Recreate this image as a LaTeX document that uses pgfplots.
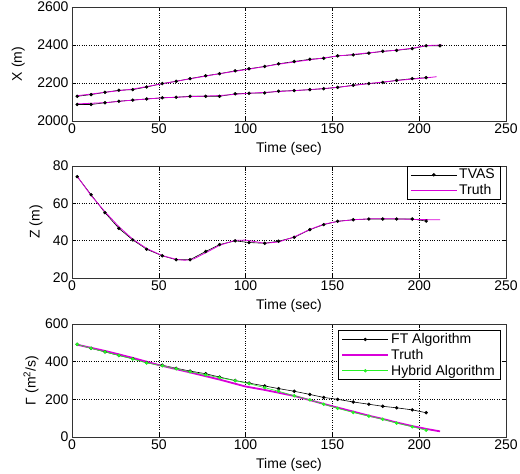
\documentclass[border=0pt]{standalone}
\usepackage{fontspec}
\setmainfont{Liberation Sans}
\usepackage{pgfplots}
\pgfplotsset{compat=1.18}

\definecolor{truthc}{rgb}{0.85,0,0.85}
\definecolor{hybc}{rgb}{0.15,0.95,0.15}

\pgfplotsset{
  panel/.style={
    scale only axis,
    width=434pt,
    xmin=0, xmax=250,
    xtick={0,50,100,150,200,250},
    tick align=inside,
    major tick length=4pt,
    tick style={black, thin},
    axis line style={black!80, line width=0.8pt},
    grid=major,
    grid style={black, dotted, line width=0.5pt},
    font=\fontsize{14}{16}\selectfont,
    ticklabel style={font=\fontsize{14}{16}\selectfont},
    /pgf/number format/assume math mode=true,
    /pgf/number format/1000 sep={},
    xlabel={Time (sec)},
    x label style={at={(axis description cs:0.5,0)}, anchor=center, yshift=-28pt},
    xticklabel style={yshift=1pt},
    legend cell align=left,
    legend style={draw=black, fill=white, font=\fontsize{14}{16}\selectfont,
      inner xsep=3pt, inner ysep=1pt, row sep=0pt},
    legend image code/.code={%
      \draw[mark repeat=2, mark phase=2, #1] plot coordinates {(0pt,0pt) (23pt,0pt) (46pt,0pt)};},
  },
  fts/.style={black, line width=0.6pt, mark=*, mark size=1.4pt},
  tru/.style={truthc, line width=0.8pt},
  trb/.style={truthc, line width=1.8pt},
  hyb/.style={hybc, line width=0.6pt, mark=*, mark size=1.4pt},
}

\begin{document}
\begin{tikzpicture}
\useasboundingbox (0pt,0pt) rectangle (520pt,474pt);

% ---------- X ----------
\begin{axis}[panel,
  at={(72pt,353pt)}, anchor=south west,
  height=114pt,
  ymin=2000, ymax=2600, ytick={2000,2200,2400,2600},
  ylabel={X (m)},
  y label style={at={(axis description cs:-0.124,0.5)}, anchor=center},
]
\addplot[fts] coordinates {
(3,2130)(11,2139)(19,2151)(27,2162)(35,2165)(43,2179)(52,2197)(60,2209)(68,2223)
(77,2238)(85,2249)(94,2264)(102,2275)(111,2287)(119,2301)(128,2313)(137,2325)
(145,2330)(153,2343)(162,2348)(171,2357)(179,2367)(187,2372)(196,2381)(204,2396)(212,2396)
};
\addplot[fts] coordinates {
(3,2087)(11,2087)(19,2096)(27,2104)(35,2110)(43,2116)(52,2122)(60,2125)(68,2130)
(77,2130)(85,2130)(94,2143)(102,2146)(111,2148)(119,2157)(128,2160)(137,2165)
(145,2170)(153,2177)(162,2188)(171,2197)(179,2203)(187,2214)(196,2223)(204,2228)
};
\addplot[tru] coordinates {
(3,2133)(20,2152)(35,2168)(52,2196)(68,2222)(85,2249)(102,2273)(119,2299)
(137,2322)(153,2342)(170,2358)(187,2373)(196,2383)(204,2397)(213,2400)
};
\addplot[tru] coordinates {
(3,2090)(20,2097)(35,2110)(52,2122)(68,2128)(85,2134)(102,2146)(119,2155)
(137,2165)(153,2177)(170,2196)(187,2213)(204,2227)(210,2233)
};
\end{axis}

% ---------- Z ----------
\begin{axis}[panel,
  at={(72pt,196pt)}, anchor=south west,
  height=112pt,
  ymin=20, ymax=80, ytick={20,40,60,80},
  ylabel={Z (m)},
  y label style={at={(axis description cs:-0.083,0.5)}, anchor=center},
  legend style={at={(0.986,1)}, anchor=north east},
]
\addlegendimage{fts}
\addlegendentry{TVAS}
\addlegendimage{tru}
\addlegendentry{Truth}
\addplot[fts, forget plot] coordinates {
(3,74.3)(11,64.6)(19,55.0)(27,46.6)(35,40.4)(43,35.4)(52,31.9)(60,29.8)(68,29.8)
(77,34.2)(85,37.9)(94,39.9)(102,39.0)(111,38.6)(119,39.7)(128,41.8)(137,45.9)
(145,48.6)(153,50.4)(162,51.2)(171,51.6)(179,51.6)(187,51.6)(196,51.6)(204,50.5)
};
\addplot[tru, forget plot] coordinates {
(3,74.5)(11,64.2)(19,55.5)(27,47.5)(35,40.8)(43,35.8)(52,32.0)(60,30.0)(65,29.5)
(70,30.2)(77,33.5)(85,37.5)(94,40.2)(100,40.3)(106,39.4)(111,38.6)(119,39.3)
(128,42.0)(137,46.0)(145,48.8)(153,50.3)(162,51.2)(171,51.7)(180,51.8)(190,51.6)
(200,51.3)(212,51.2)
};
\end{axis}

% ---------- Gamma ----------
\begin{axis}[panel,
  at={(72pt,37pt)}, anchor=south west,
  height=113pt,
  ymin=0, ymax=600, ytick={0,200,400,600},
  ylabel={Γ (m\textsuperscript{2}/s)},
  y label style={at={(axis description cs:-0.0945,0.5)}, anchor=center},
  legend style={at={(0.986,0.943)}, anchor=north east},
]
\addlegendimage{fts}
\addlegendentry{FT Algorithm}
\addlegendimage{trb}
\addlegendentry{Truth}
\addlegendimage{hyb}
\addlegendentry{Hybrid Algorithm}
\addplot[fts, forget plot] coordinates {
(3,492)(11,471)(19,452)(27,433)(35,416)(43,395)(52,381)(60,365)(68,350)
(77,336)(85,318)(94,300)(102,286)(111,271)(119,257)(128,243)(137,226)
(145,210)(153,200)(162,186)(171,174)(179,163)(187,155)(196,144)(204,129)
};
\addplot[trb, forget plot] coordinates {
(3,490)(20,455)(35,420)(50,382)(68,343)(85,305)(100,268)(111,250)(119,235)
(128,218)(137,196)(150,163)(162,135)(171,113)(179,96)(187,77)(196,58)(204,43)(212,30)
};
\addplot[hyb, forget plot] coordinates {
(3,492)(11,471)(19,452)(27,433)(35,414)(43,393)(52,378)(60,362)(68,346)
(77,330)(85,315)(94,299)(102,283)(111,262)(119,243)(128,219)(137,197)
(145,174)(153,152)(162,130)(171,111)(179,94)(187,74)(196,54)(204,36)
};
\end{axis}
\end{tikzpicture}
\end{document}
